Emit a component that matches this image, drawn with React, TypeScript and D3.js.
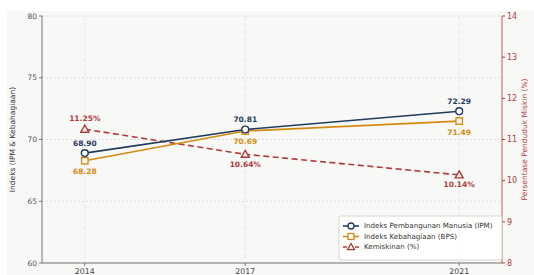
import React from "react";
import * as d3 from "d3";

const years = [2014, 2017, 2021];
const ipm = [68.9, 70.81, 72.29];
const kebahagiaan = [68.28, 70.69, 71.49];
const kemiskinan = [11.25, 10.64, 10.14];
const leftTicks = [60, 65, 70, 75, 80];
const rightTicks = [8, 9, 10, 11, 12, 13, 14];

const W = 534, H = 275;
const L = 42, R = 502, T = 16, B = 263;
const C_IPM = "#1f3b5e";
const C_KEB = "#d68910";
const C_POV = "#b03a3a";
const FONT = "DejaVu Sans";

export default function App() {
  const x = d3.scaleLinear().domain([2013.2, 2021.8]).range([L, R]);
  const yL = d3.scaleLinear().domain([60, 80]).range([B, T]);
  const yR = d3.scaleLinear().domain([8, 14]).range([B, T]);
  const lineL = d3.line<number>().x((_, i) => x(years[i])).y((d) => yL(d));
  const lineR = d3.line<number>().x((_, i) => x(years[i])).y((d) => yR(d));
  const tri = (cx: number, cy: number, s: number) =>
    `M${cx},${cy - s}L${cx + s},${cy + s * 0.75}L${cx - s},${cy + s * 0.75}Z`;

  const legX = 339, legY = 216;
  const legItems = [
    { label: "Indeks Pembangunan Manusia (IPM)", color: C_IPM, m: "circle", dash: "" },
    { label: "Indeks Kebahagiaan (BPS)", color: C_KEB, m: "square", dash: "" },
    { label: "Kemiskinan (%)", color: C_POV, m: "tri", dash: "4,2" },
  ];

  return (
    <svg width={W} height={H} style={{ position: "absolute", left: 0, top: 0 }} fontFamily={FONT}>
      <rect x={0} y={0} width={W} height={H} fill="#ffffff" />
      <rect x={7} y={11} width={W - 7} height={H - 11} fill="#f8f8f6" />
      {leftTicks.map((t) => (
        <line key={"gy" + t} x1={L} x2={R} y1={yL(t)} y2={yL(t)} stroke="#d6d6d6" strokeWidth={0.8} strokeDasharray="2,2" />
      ))}
      {years.map((yv) => (
        <line key={"gx" + yv} x1={x(yv)} x2={x(yv)} y1={T} y2={B} stroke="#e2e2e2" strokeWidth={0.8} strokeDasharray="4,3" />
      ))}
      <line x1={L} x2={L} y1={T} y2={B} stroke="#777" strokeWidth={1} />
      <line x1={L} x2={R} y1={B} y2={B} stroke="#777" strokeWidth={1} />
      <line x1={R} x2={R} y1={T} y2={B} stroke={C_POV} strokeWidth={1} opacity={0.8} />
      {leftTicks.map((t) => (
        <g key={"lt" + t}>
          <line x1={L - 3} x2={L} y1={yL(t)} y2={yL(t)} stroke="#777" />
          <text x={L - 5} y={yL(t)} dy="0.35em" textAnchor="end" fontSize={7.5} fill="#555">{t}</text>
        </g>
      ))}
      {rightTicks.map((t) => (
        <g key={"rt" + t}>
          <line x1={R} x2={R + 3} y1={yR(t)} y2={yR(t)} stroke={C_POV} />
          <text x={R + 5} y={yR(t)} dy="0.35em" textAnchor="start" fontSize={8} fill={C_POV}>{t}</text>
        </g>
      ))}
      {years.map((yv) => (
        <g key={"xt" + yv}>
          <line x1={x(yv)} x2={x(yv)} y1={B} y2={B + 3} stroke="#777" />
          <text x={x(yv)} y={B + 10.5} textAnchor="middle" fontSize={7.8} fill="#444">{yv}</text>
        </g>
      ))}
      <text transform={`translate(15,${(T + B) / 2}) rotate(-90)`} textAnchor="middle" fontSize={7.5} fill="#333">Indeks (IPM &amp; Kebahagiaan)</text>
      <text transform={`translate(527,${(T + B) / 2}) rotate(-90)`} textAnchor="middle" fontSize={7.5} fill={C_POV}>Persentase Penduduk Miskin (%)</text>
      <path d={lineR(kemiskinan) || ""} fill="none" stroke={C_POV} strokeWidth={1.6} strokeDasharray="6,3.5" />
      <path d={lineL(kebahagiaan) || ""} fill="none" stroke={C_KEB} strokeWidth={1.6} />
      <path d={lineL(ipm) || ""} fill="none" stroke={C_IPM} strokeWidth={1.6} />
      {kemiskinan.map((v, i) => (
        <g key={"p" + i}>
          <path d={tri(x(years[i]), yR(v), 4)} fill="#f8f8f6" stroke={C_POV} strokeWidth={1.4} />
          <text x={x(years[i])} y={i === 0 ? yR(v) - 8 : yR(v) + 12.5} textAnchor="middle" fontSize={7.5} fontWeight="bold" fill={C_POV}>{v.toFixed(2)}%</text>
        </g>
      ))}
      {kebahagiaan.map((v, i) => (
        <g key={"k" + i}>
          <rect x={x(years[i]) - 3.2} y={yL(v) - 3.2} width={6.4} height={6.4} fill="#fff" stroke={C_KEB} strokeWidth={1.4} />
          <text x={x(years[i])} y={yL(v) + 13.5} textAnchor="middle" fontSize={7.5} fontWeight="bold" fill={C_KEB}>{v.toFixed(2)}</text>
        </g>
      ))}
      {ipm.map((v, i) => (
        <g key={"i" + i}>
          <circle cx={x(years[i])} cy={yL(v)} r={3.4} fill="#fff" stroke={C_IPM} strokeWidth={1.4} />
          <text x={x(years[i])} y={yL(v) - 7} textAnchor="middle" fontSize={7.5} fontWeight="bold" fill={C_IPM}>{v.toFixed(2)}</text>
        </g>
      ))}
      <rect x={legX} y={legY} width={163} height={44} rx={2} fill="#ffffff" fillOpacity={0.9} stroke="#cccccc" strokeWidth={0.8} />
      {legItems.map((it, i) => {
        const cy = legY + 10 + i * 10.5;
        const cx = legX + 12;
        return (
          <g key={"lg" + i}>
            <line x1={cx - 8} x2={cx + 8} y1={cy} y2={cy} stroke={it.color} strokeWidth={1.6} strokeDasharray={it.dash} />
            {it.m === "circle" && <circle cx={cx} cy={cy} r={3} fill="#fff" stroke={it.color} strokeWidth={1.3} />}
            {it.m === "square" && <rect x={cx - 3} y={cy - 3} width={6} height={6} fill="#fff" stroke={it.color} strokeWidth={1.3} />}
            {it.m === "tri" && <path d={tri(cx, cy, 3.5)} fill="#fff" stroke={it.color} strokeWidth={1.3} />}
            <text x={cx + 13} y={cy} dy="0.35em" fontSize={7.1} fill="#333">{it.label}</text>
          </g>
        );
      })}
    </svg>
  );
}
